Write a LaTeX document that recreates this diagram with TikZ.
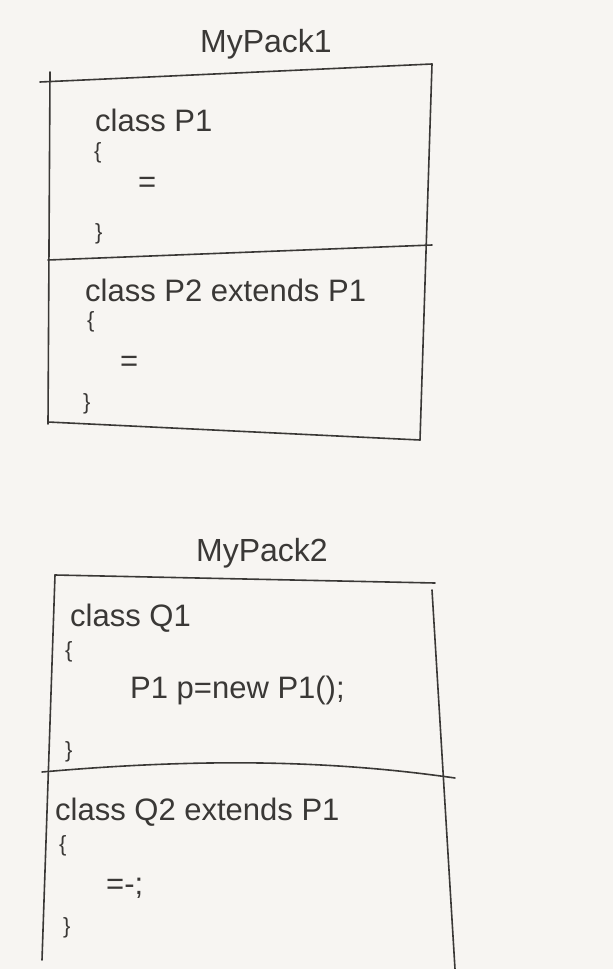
\documentclass[tikz,border=0pt]{standalone}
\usepackage{fontspec}
\setmainfont{Liberation Sans}
\definecolor{board}{HTML}{F7F5F2}
\definecolor{ink}{HTML}{3A3836}
\begin{document}
\begin{tikzpicture}[x=1pt,y=-1pt,
  pen/.style={draw=ink,line width=1.6pt,line cap=round,line join=round},
  code/.style={anchor=west,text=ink,font=\fontsize{31}{34}\selectfont,inner sep=0pt},
  brace/.style={anchor=west,text=ink,font=\fontsize{22}{24}\selectfont,inner sep=0pt},
  title/.style={text=ink,font=\fontsize{32}{34}\selectfont,inner sep=0pt}]
\fill[board] (0,0) rectangle (613,969);
\useasboundingbox (0,0) rectangle (613,969);

% package MyPack1
\node[title] (t1) at (266,44) {MyPack1};
\draw[pen] (40,82) -- (432,64);
\draw[pen] (50,72) -- (48,424);
\draw[pen] (432,64) -- (420,440);
\draw[pen] (48,260) -- (432,245);
\draw[pen] (48,422) -- (420,440);
\node[code] (a1) at (95,120) {class P1};
\node[brace] (a2) at (94,153) {\{};
\node[code] (a3) at (138,185) {=};
\node[brace] (a4) at (95,234) {\}};
\node[code] (b1) at (85,290) {class P2 extends P1};
\node[brace] (b2) at (87,322) {\{};
\node[code] (b3) at (120,364) {=};
\node[brace] (b4) at (83,404) {\}};

% package MyPack2
\node[title] (t2) at (262,553) {MyPack2};
\draw[pen] (55,575) -- (435,583);
\draw[pen] (55,575) -- (42,960);
\draw[pen] (432,590) -- (455,969);
\draw[pen] (42,772) .. controls (200,758) and (330,760) .. (455,778);
\node[code] (c1) at (70,618) {class Q1};
\node[brace] (c2) at (65,652) {\{};
\node[code] (c3) at (130,690) {P1 p=new P1();};
\node[brace] (c4) at (65,752) {\}};
\node[code] (d1) at (55,812) {class Q2 extends P1};
\node[brace] (d2) at (59,846) {\{};
\node[code] (d3) at (106,888) {=-;};
\node[brace] (d4) at (63,928) {\}};
\end{tikzpicture}
\end{document}
